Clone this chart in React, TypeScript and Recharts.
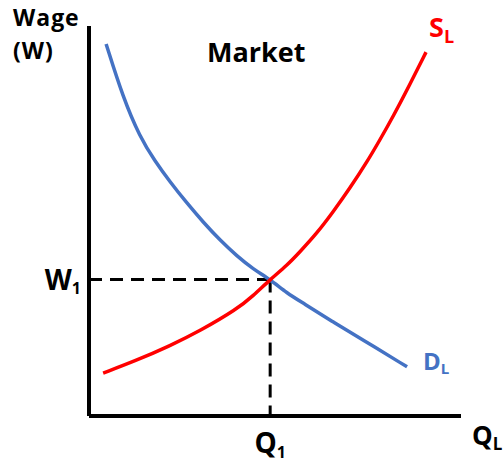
import { ComposedChart, Line, ReferenceLine, XAxis, YAxis } from 'recharts';

// quantity of labour (x) and wage (y), both on a 0–100 scale
const demandQ = [4.6, 9.1, 13.7, 17.7, 21.8, 26.3, 30.7, 35.2, 39.8, 44.1, 48.7, 53.2, 57.5, 65.6, 73.7, 85.5];
const demandW = [95.4, 81.8, 71.5, 65.4, 60.0, 54.6, 49.7, 45.1, 41.0, 37.7, 35.0, 31.5, 29.0, 24.1, 19.5, 12.6];
const supplyQ = [3.8, 12.4, 21.8, 29.8, 39.8, 44.1, 48.7, 53.2, 56.7, 61.3, 65.6, 70.2, 74.7, 78.2, 81.7, 86.3, 90.6];
const supplyW = [11.0, 14.1, 18.0, 21.8, 27.4, 30.8, 35.0, 38.6, 42.1, 46.9, 52.3, 58.5, 65.1, 70.8, 76.7, 85.1, 93.3];
const eqQ = 48.7;
const eqW = 35.0;

const FONT = '"Open Sans", sans-serif';
const BLUE = '#4472C4';
const RED = '#FF0000';

const demand = demandQ.map((q, i) => ({ q, w: demandW[i] }));
const supply = supplyQ.map((q, i) => ({ q, w: supplyW[i] }));

function SubText({ x, y, main, sub, size, subSize, fill = '#000', anchor = 'start' }: any) {
  return (
    <text x={x} y={y} fontFamily={FONT} fontWeight={700} fontSize={size} fill={fill} textAnchor={anchor}>
      <tspan>{main}</tspan>
      <tspan fontSize={subSize} dy={subSize * 0.3}>{sub}</tspan>
    </text>
  );
}

function QTick(props: any) {
  const { x, y } = props;
  return <SubText x={x} y={y + 29} main="Q" sub="1" size={28} subSize={16} anchor="middle" />;
}

function WTick(props: any) {
  const { x, y } = props;
  return <SubText x={x} y={y + 10} main="W" sub="1" size={28} subSize={16} anchor="end" />;
}

function endLabel(count: number, main: string, dx: number, dy: number, fill: string, size: number, subSize: number) {
  return (props: any) => {
    if (props.index !== count - 1) return null;
    return <SubText x={props.x + dx} y={props.y + dy} main={main} sub="L" size={size} subSize={subSize} fill={fill} />;
  };
}

export default function App() {
  return (
    <div style={{ position: 'absolute', left: 0, top: 0, width: 504, height: 462, background: '#fff' }}>
      <ComposedChart width={504} height={462} margin={{ top: 26, right: 43, bottom: 0, left: 0 }}>
        <XAxis
          type="number"
          dataKey="q"
          domain={[0, 100]}
          ticks={[eqQ]}
          tick={<QTick />}
          tickLine={false}
          axisLine={{ stroke: '#000', strokeWidth: 4 }}
          height={46}
          allowDataOverflow
        />
        <YAxis
          type="number"
          dataKey="w"
          domain={[0, 100]}
          ticks={[eqW]}
          tick={<WTick />}
          tickLine={false}
          axisLine={{ stroke: '#000', strokeWidth: 4 }}
          width={89}
          allowDataOverflow
        />
        <ReferenceLine
          segment={[{ x: 0, y: eqW }, { x: eqQ, y: eqW }]}
          stroke="#000"
          strokeWidth={3}
          strokeDasharray="13 8"
        />
        <ReferenceLine
          segment={[{ x: eqQ, y: eqW }, { x: eqQ, y: 0 }]}
          stroke="#000"
          strokeWidth={3}
          strokeDasharray="13 8"
        />
        <Line
          data={demand}
          dataKey="w"
          type="basis"
          stroke={BLUE}
          strokeWidth={3.5}
          dot={false}
          isAnimationActive={false}
          label={endLabel(demand.length, 'D', 16, 3, BLUE, 24, 15)}
        />
        <Line
          data={supply}
          dataKey="w"
          type="basis"
          stroke={RED}
          strokeWidth={3.5}
          dot={false}
          isAnimationActive={false}
          label={endLabel(supply.length, 'S', 3, -15, RED, 27, 18)}
        />
      </ComposedChart>
      <svg width={504} height={462} style={{ position: 'absolute', left: 0, top: 0, pointerEvents: 'none' }}>
        <text x={13} y={26} fontFamily={FONT} fontWeight={700} fontSize={23} letterSpacing={1}>Wage</text>
        <text x={13} y={59} fontFamily={FONT} fontWeight={700} fontSize={23} letterSpacing={1}>(W)</text>
        <text x={207} y={62} fontFamily={FONT} fontWeight={700} fontSize={27}>Market</text>
        <SubText x={472} y={445} main="Q" sub="L" size={26} subSize={17} />
      </svg>
    </div>
  );
}
